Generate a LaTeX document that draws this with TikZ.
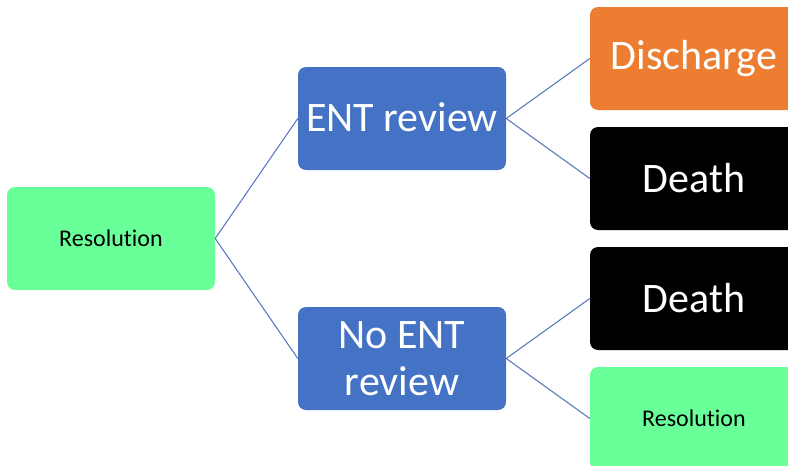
\documentclass[tikz,border=0pt]{standalone}
\usepackage{fontspec}
\setmainfont{Carlito}[RawFeature=-liga]
\definecolor{nodegreen}{HTML}{69FF99}
\definecolor{nodeblue}{HTML}{4472C4}
\definecolor{nodeorange}{HTML}{ED7D31}
\definecolor{linkblue}{HTML}{5B7BC0}
\tikzset{
  box/.style={rectangle, rounded corners=8pt, minimum width=208pt, minimum height=103pt,
    inner sep=2pt, align=center, anchor=center},
  bigtext/.style={font=\fontsize{42}{47}\selectfont, text=white},
  smalltext/.style={font=\fontsize{24}{28}\selectfont, text=black},
  greenbox/.style={box, fill=nodegreen, smalltext},
  bluebox/.style={box, fill=nodeblue, bigtext},
  orangebox/.style={box, fill=nodeorange, bigtext},
  blackbox/.style={box, fill=black, bigtext},
  link/.style={draw=linkblue, line width=1.1pt},
  lift/.style={text depth=0pt, yshift=0pt}
}
\begin{document}
\begin{tikzpicture}[x=1pt,y=-1pt]
  \useasboundingbox (0,0) rectangle (788,466);
  \clip (0,0) rectangle (788,466);
  % root
  \node[greenbox] (root) at (111,238.5) {Resolution};
  % second level
  \node[bluebox] (ent) at (402,118.5) {\raisebox{2.5pt}{ENT review}};
  \node[bluebox] (noent) at (402,358.5) {No ENT\\review};
  % outcomes
  \node[orangebox] (dis) at (694,58.5) {\raisebox{2pt}{Discharge}};
  \node[blackbox] (death1) at (694,178.5) {\raisebox{2pt}{Death}};
  \node[blackbox] (death2) at (694,298.5) {\raisebox{2pt}{Death}};
  \node[greenbox] (res2) at (694,418.5) {Resolution};
  % connectors
  \draw[link] (root.east) -- (ent.west);
  \draw[link] (root.east) -- (noent.west);
  \draw[link] (ent.east) -- (dis.west);
  \draw[link] (ent.east) -- (death1.west);
  \draw[link] (noent.east) -- (death2.west);
  \draw[link] (noent.east) -- (res2.west);
\end{tikzpicture}
\end{document}
